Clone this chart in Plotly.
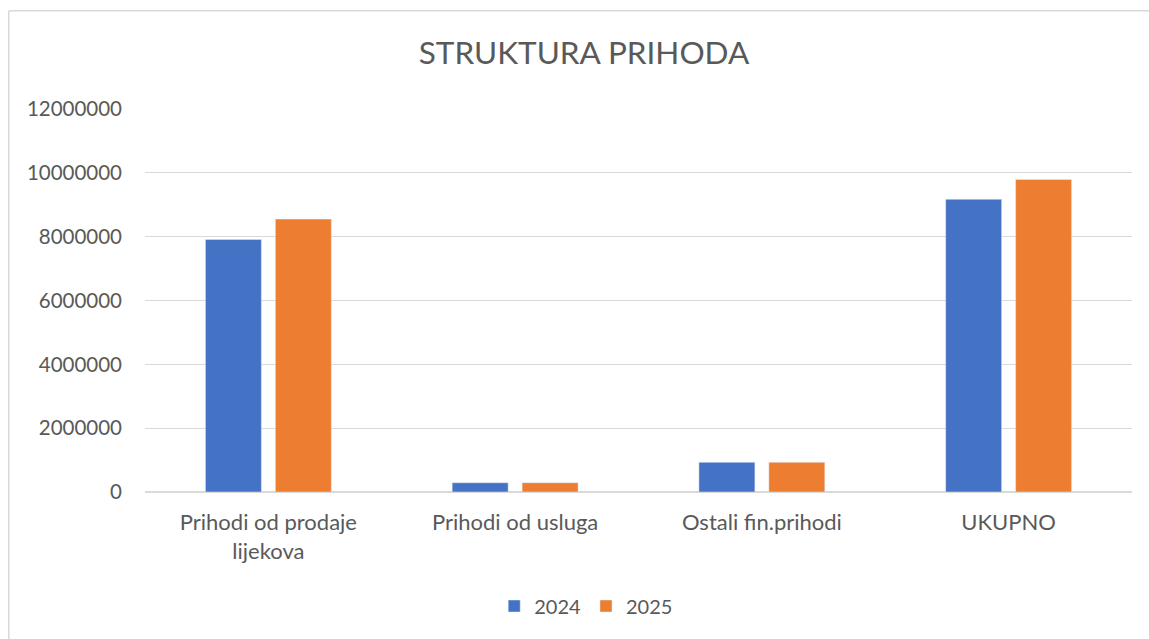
import plotly.graph_objects as go

categories = ["Prihodi od prodaje<br>lijekova", "Prihodi od usluga", "Ostali fin.prihodi", "UKUPNO"]
values_2024 = [7910000, 290000, 930000, 9170000]
values_2025 = [8550000, 290000, 930000, 9790000]
y_ticks = [0, 2000000, 4000000, 6000000, 8000000, 10000000, 12000000]

W, H = 1149, 639
L, R, T, B = 145, 1132, 109, 492
pw, ph = R - L, B - T

fig = go.Figure()
fig.add_trace(go.Bar(name="2024", x=categories, y=values_2024, marker_color="#4472C4"))
fig.add_trace(go.Bar(name="2025", x=categories, y=values_2025, marker_color="#ED7D31"))

# light chart border: only left and top edges are visible in the crop
bx = (8.75 - L) / pw
by = (B - 10.75) / ph
line_style = dict(color="#d9d9d9", width=1.5)
fig.add_shape(type="line", xref="paper", yref="paper", x0=bx, x1=bx, y0=by, y1=-1, line=line_style)
fig.add_shape(type="line", xref="paper", yref="paper", x0=bx, x1=2, y0=by, y1=by, line=line_style)

fig.update_layout(
    width=W, height=H,
    margin=dict(l=L, r=W - R, t=T, b=H - B),
    paper_bgcolor="white", plot_bgcolor="white",
    font=dict(family="Lato", color="#595959", size=20),
    title=dict(text="STRUKTURA PRIHODA", x=584 / W, xanchor="center",
               y=1 - 53 / H, yanchor="middle",
               font=dict(size=31.5, color="#595959")),
    barmode="group", bargap=0.433, bargroupgap=0.2,
    legend=dict(orientation="h", x=0.447, xanchor="center", y=-(606 - 492) / ph, yanchor="middle",
                font=dict(size=20), itemwidth=30),
    showlegend=True,
)
fig.update_yaxes(range=[0, 12000000], tickvals=y_ticks, tickformat="d",
                 tickfont=dict(size=20.5),
                 showgrid=True, gridcolor="#d9d9d9", gridwidth=1,
                 zeroline=True, zerolinecolor="#d9d9d9", zerolinewidth=1.5,
                 showline=False, ticks="", ticklabelstandoff=22)
fig.update_xaxes(showgrid=False, showline=False, ticks="", ticklabelstandoff=15,
                 tickfont=dict(size=22))

fig.write_html("out.html", config={"displayModeBar": False},
               post_script="document.body.style.margin='0';document.body.style.overflow='hidden';")
